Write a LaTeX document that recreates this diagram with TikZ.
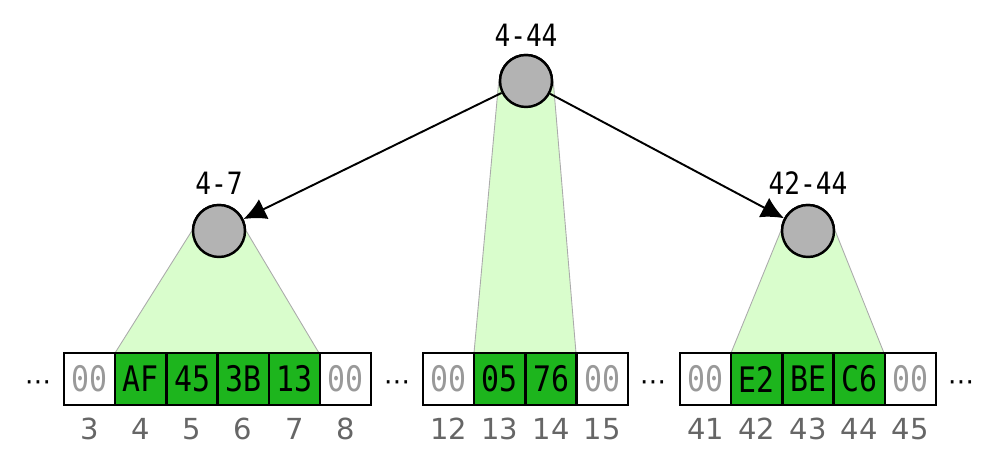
\documentclass[tikz,border=0pt]{standalone}
\usepackage{fontspec}
\setmainfont{DejaVu Sans}
\setsansfont{DejaVu Sans}
\setmonofont{DejaVu Sans Mono}
\newfontfamily\cellfont[FakeStretch=0.85]{DejaVu Sans Mono}
\usetikzlibrary{arrows.meta}
\definecolor{cellgreen}{HTML}{1DB51D}
\definecolor{fangreen}{HTML}{D9FDCC}
\definecolor{nodegray}{HTML}{B3B3B3}

\begin{document}
\begin{tikzpicture}[x=0.02cm, y=-0.02cm, line width=1.4pt,
  cell/.style={draw, minimum width=1.024cm, minimum height=1.04cm, inner sep=0pt, font=\cellfont\fontsize{20}{20}\selectfont},
  byte/.style={cell, fill=cellgreen},
  hole/.style={cell, fill=white, text=black!40},
  idx/.style={anchor=base, text=black!60, font=\fontsize{16.5}{17}\selectfont},
  gapdots/.style={font=\fontsize{15}{15}\selectfont},
  vnode/.style={draw, circle, fill=nodegray, minimum size=1.04cm, inner sep=0pt},
  spanlabel/.style={anchor=base, font=\cellfont\fontsize{17.5}{18}\selectfont},
  fan/.style={fill=fangreen, draw=black!33, line width=0.5pt}]
  \useasboundingbox (0,0) rectangle (1000,465);

  \node[vnode] (top) at (526,81) {};
  \node[vnode] (left) at (219,231) {};
  \node[vnode] (right) at (808,231) {};

  % highlighted ranges
  \filldraw[fan] (115,353) -- (left.west) -- (left.east) -- (319,353);
  \filldraw[fan] (474,353) -- (top.west) -- (top.east) -- (576,353);
  \filldraw[fan] (731,353) -- (right.west) -- (right.east) -- (884,353);

  \node[vnode] at (top) {};
  \node[vnode] at (left) {};
  \node[vnode] at (right) {};

  \node[spanlabel] (s1) at (526,47) {4-44};
  \node[spanlabel] (s2) at (219,195) {4-7};
  \node[spanlabel] (s3) at (808,195) {42-44};

  % memory cells
  \foreach \s/\v/\k in {hole/00/3, byte/AF/4, byte/45/5, byte/3B/6, byte/13/7, hole/00/8} {
    \node[\s] (c\k) at ({89.6+51.2*(\k-3)},379) {\v};
    \node[idx] (i\k) at ({89.6+51.2*(\k-3)},439) {\k};
  }
  \foreach \s/\v/\k in {hole/00/12, byte/05/13, byte/76/14, hole/00/15} {
    \node[\s] (c\k) at ({448.6+51.2*(\k-12)},379) {\v};
    \node[idx] (i\k) at ({448.6+51.2*(\k-12)},439) {\k};
  }
  \foreach \s/\v/\k in {hole/00/41, byte/E2/42, byte/BE/43, byte/C6/44, hole/00/45} {
    \node[\s] (c\k) at ({705.6+51.2*(\k-41)},379) {\v};
    \node[idx] (i\k) at ({705.6+51.2*(\k-41)},439) {\k};
  }

  \node[gapdots] (d1) at (38,386) {⋯};
  \node[gapdots] (d2) at (397,386) {⋯};
  \node[gapdots] (d3) at (653,386) {⋯};
  \node[gapdots] (d4) at (961,386) {⋯};

  \draw[-{Latex[length=4.5mm,width=4.4mm]}, line width=1.1pt] (top) -- (left);
  \draw[-{Latex[length=4.5mm,width=4.4mm]}, line width=1.1pt] (top) -- (right);
\end{tikzpicture}
\end{document}
